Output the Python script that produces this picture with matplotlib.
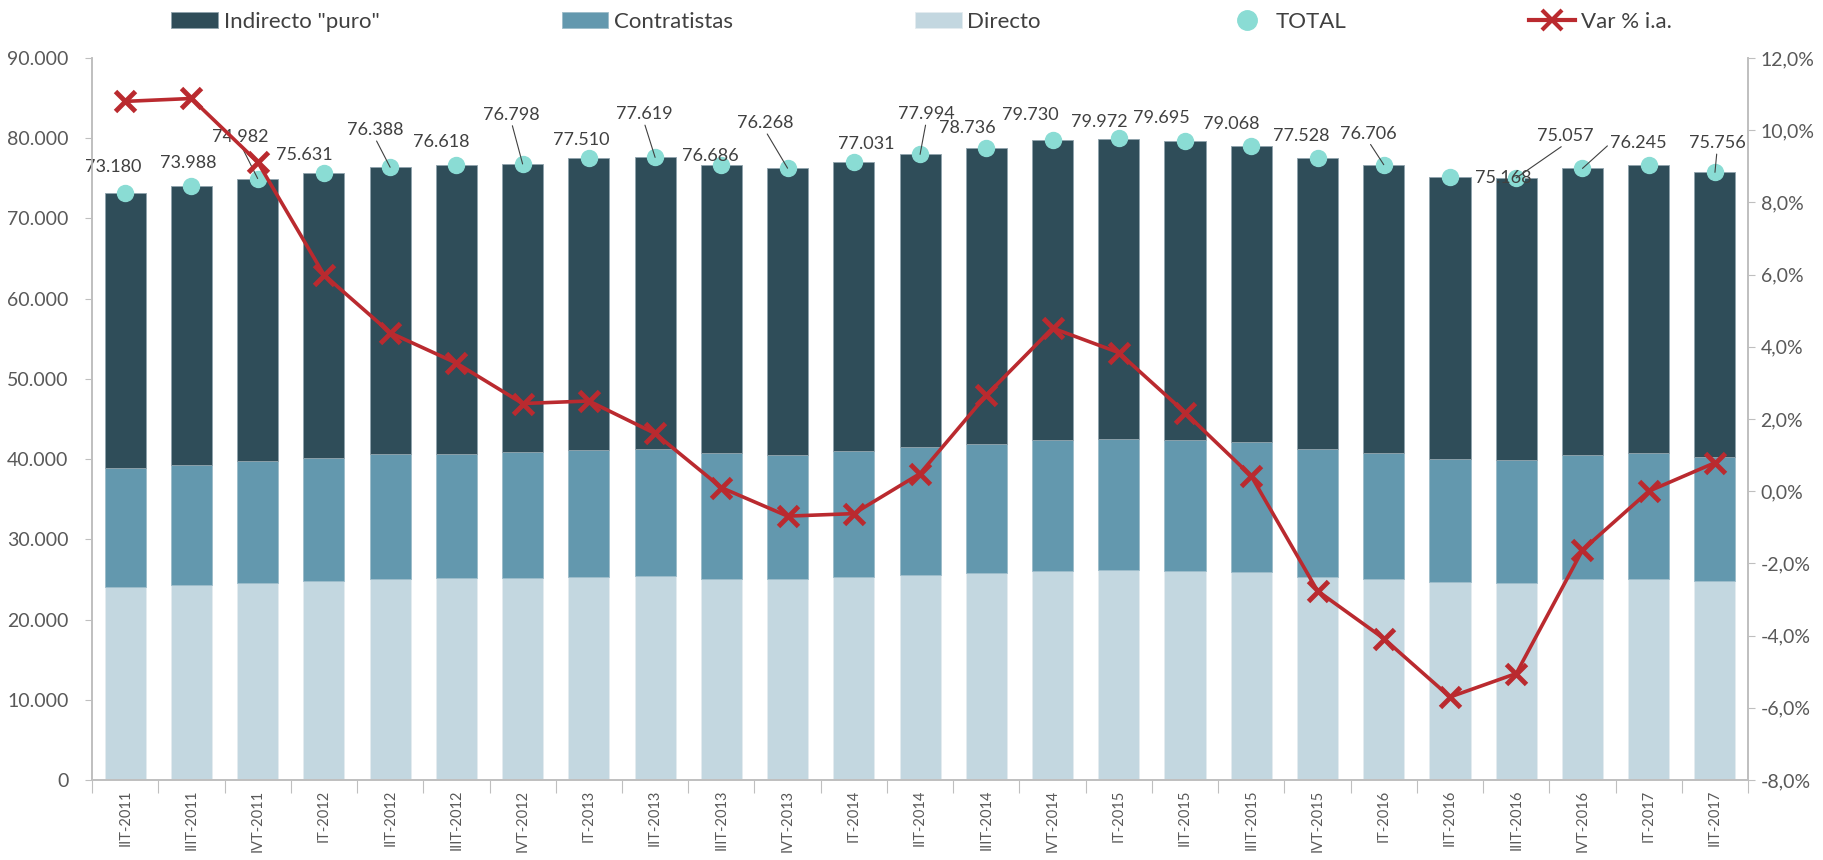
import matplotlib.pyplot as plt
from matplotlib.lines import Line2D
import numpy as np

plt.rcParams['font.family'] = ['Lato', 'DejaVu Sans']

# quarters
periods = ["IIT-2011", "IIIT-2011", "IVT-2011",
           "IT-2012", "IIT-2012", "IIIT-2012", "IVT-2012",
           "IT-2013", "IIT-2013", "IIIT-2013", "IVT-2013",
           "IT-2014", "IIT-2014", "IIIT-2014", "IVT-2014",
           "IT-2015", "IIT-2015", "IIIT-2015", "IVT-2015",
           "IT-2016", "IIT-2016", "IIIT-2016", "IVT-2016",
           "IT-2017", "IIT-2017"]

# employment by type
directo = [24090, 24330, 24620, 24870, 25080, 25170, 25200, 25370, 25450, 25120,
           25000, 25250, 25500, 25750, 26040, 26120, 26040, 25870, 25370, 25120,
           24670, 24620, 25000, 25120, 24870]
contratistas = [14780, 14960, 15210, 15300, 15500, 15530, 15630, 15800, 15800, 15630,
                15500, 15710, 15960, 16120, 16380, 16380, 16380, 16210, 15880, 15630,
                15290, 15250, 15500, 15630, 15380]
indirecto = [34310, 34700, 35150, 35460, 35810, 35920, 35970, 36340, 36370, 35940,
             35770, 36070, 36530, 36870, 37310, 37470, 37280, 36990, 36280, 35960,
             35210, 35190, 35750, 35970, 35510]
total = [73180, 73988, 74982, 75631, 76388, 76618, 76798, 77510, 77619, 76686,
         76268, 77031, 77994, 78736, 79730, 79972, 79695, 79068, 77528, 76706,
         75168, 75057, 76245, 76720, 75756]
# year-on-year change, %
var_ia = [10.80, 10.88, 9.12, 6.00, 4.39, 3.55, 2.43, 2.50, 1.60, 0.10,
          -0.69, -0.62, 0.49, 2.66, 4.52, 3.84, 2.18, 0.42, -2.76, -4.08,
          -5.70, -5.05, -1.63, 0.00, 0.79]

# label placement (pixel offsets from the dot, None = no label), leader flag
label_off = [(-12, 26), (-3, 23), (-17, 42), (-20, 18), (-15, 37), (-15, 23),
             (-11, 49), (-8, 18), (-11, 43), (-11, 9), (-22, 45), (12, 18),
             (6, 40), (-19, 20), (-22, 25), (-19, 16), (-24, 23), (-20, 22),
             (-16, 22), (-15, 31), (53, -1), (49, 42), (56, 25), None, (2, 29)]
leader = {2, 4, 6, 8, 10, 12, 19, 21, 22, 24}

c_ind = "#2F4D59"
c_con = "#6398AE"
c_dir = "#C3D7E0"
c_tot = "#8ADCD4"
c_var = "#BA2A2F"
c_axis = "#BFBFBF"
c_tick = "#595959"
c_lab = "#404040"

x = np.arange(len(periods))
d = np.array(directo)
c = np.array(contratistas)

fig = plt.figure(figsize=(18.23, 8.6), dpi=100)
ax = fig.add_axes([0.0505, 0.093, 0.9084, 0.8395])
ax2 = ax.twinx()

w = 0.62
b1 = ax.bar(x, directo, w, color=c_dir, edgecolor="#E4ECF0", linewidth=0.6, label="Directo")
b2 = ax.bar(x, contratistas, w, bottom=d, color=c_con, edgecolor="#9CBCCA", linewidth=0.6,
            label="Contratistas")
b3 = ax.bar(x, indirecto, w, bottom=d + c, color=c_ind, edgecolor="#8FA3AD", linewidth=0.6,
            label='Indirecto "puro"')
ax.plot(x, total, "o", color=c_tot, markersize=11.5, zorder=4)

for i, v in enumerate(total):
    off = label_off[i]
    if off is None:
        continue
    txt = f"{v:,}".replace(",", ".")
    if i in leader:
        ax.annotate(txt, (x[i], v), xytext=off, textcoords="offset pixels",
                    ha="center", va="center", fontsize=13, color=c_lab, zorder=5,
                    arrowprops=dict(arrowstyle="-", color=c_lab, lw=0.8,
                                    shrinkA=0, shrinkB=0,
                                    relpos=(0.0, 0.5) if i == 22 else (0.5, 0.0)))
    else:
        ax.annotate(txt, (x[i], v), xytext=off, textcoords="offset pixels",
                    ha="center", va="center", fontsize=13, color=c_lab, zorder=5)

ax2.plot(x, var_ia, color=c_var, lw=2.6, marker="x", markersize=15, markeredgewidth=3.5)

# axes
ax.set_xlim(-0.5, len(periods) - 0.5)
ax.set_ylim(0, 90000)
ax.set_yticks(np.arange(0, 90001, 10000))
ax.set_yticklabels([f"{int(t):,}".replace(",", ".") for t in np.arange(0, 90001, 10000)])
ax2.set_ylim(-8, 12)
ax2.set_yticks(np.arange(-8, 12.1, 2))
ax2.set_yticklabels([f"{t:.1f}%".replace(".", ",") for t in np.arange(-8, 12.1, 2)])

ax.set_xticks(np.arange(-0.5, len(periods), 1))
ax.set_xticklabels([])
ax.set_xticks(x, minor=True)
ax.set_xticklabels(periods, minor=True, rotation=90, fontsize=10.5, color=c_tick)
ax.tick_params(axis="x", which="major", length=9, color=c_axis, direction="out")
ax.tick_params(axis="x", which="minor", length=0, pad=7)
ax.tick_params(axis="y", length=5, pad=12, color=c_axis, labelsize=14, labelcolor=c_tick)
ax2.tick_params(axis="y", length=5, pad=4, color=c_axis, labelsize=14, labelcolor=c_tick)

for a in (ax, ax2):
    a.spines["top"].set_visible(False)
    for s in ("left", "right", "bottom"):
        a.spines[s].set_color(c_axis)
        a.spines[s].set_linewidth(1.2)

handles = [b3, b2, b1,
           Line2D([], [], ls="none", marker="o", color=c_tot, markersize=14),
           Line2D([], [], color=c_var, lw=3, marker="x", markersize=14, markeredgewidth=3)]
labels = ['Indirecto "puro"', "Contratistas", "Directo", "TOTAL", "Var % i.a."]
fig.legend(handles, labels, loc="center", bbox_to_anchor=(0.083, 0.955, 0.845, 0.04),
           mode="expand", ncol=5, frameon=False, fontsize=16, labelcolor=c_lab,
           handlelength=2.1, handleheight=0.7, handletextpad=0.25)

fig.savefig("out.png", dpi=100)
